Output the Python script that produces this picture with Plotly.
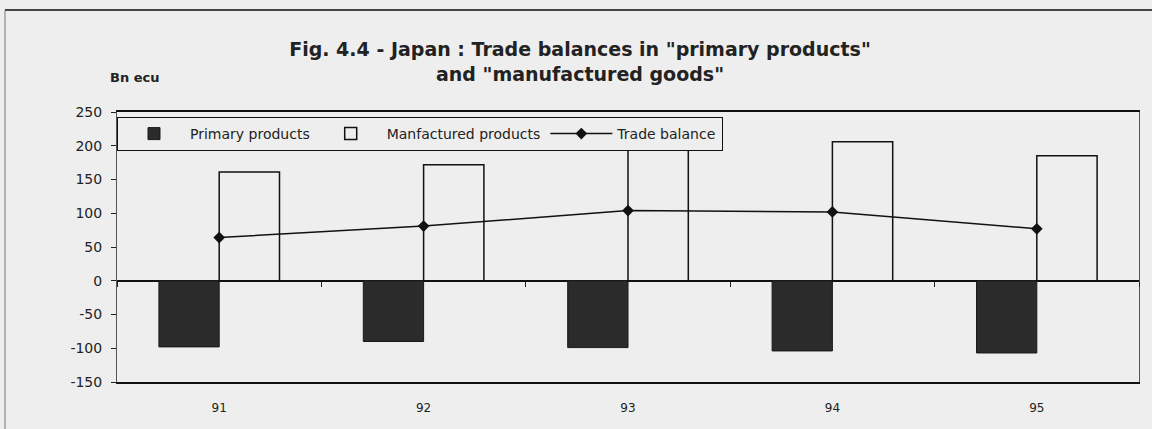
import plotly.graph_objects as go

years = ["91", "92", "93", "94", "95"]
primary = [-98, -90, -99, -104, -107]
manufactured = [161, 172, 199, 206, 185]
trade_balance = [64, 81, 104, 102, 77]
y_ticks = [-150, -100, -50, 0, 50, 100, 150, 200, 250]
y_ticktext = [str(v) for v in y_ticks]

FONT = "DejaVu Sans, Liberation Sans, Arial, sans-serif"
BG = "#eeeeee"
INK = "#222222"

fig = go.Figure()
fig.add_trace(go.Bar(
    x=years, y=primary, name="Primary products",
    marker=dict(color="#2b2b2b", line=dict(color="#1a1a1a", width=1)),
))
fig.add_trace(go.Bar(
    x=years, y=manufactured, name="Manfactured products",
    marker=dict(color=BG, line=dict(color="#111111", width=1.5)),
))
fig.add_trace(go.Scatter(
    x=years, y=trade_balance, name="Trade balance", mode="lines+markers",
    line=dict(color="#111111", width=1.5),
    marker=dict(symbol="diamond", size=9, color="#111111"),
))
# invisible helper trace so the zero-line category ticks can be drawn
fig.add_trace(go.Scatter(x=years, y=[0]*len(years), xaxis="x2", yaxis="y",
                         mode="markers", marker=dict(opacity=0),
                         showlegend=False, hoverinfo="skip"))

fig.update_layout(
    width=1152, height=429,
    margin=dict(l=117, r=13, t=112, b=47),
    paper_bgcolor=BG, plot_bgcolor=BG,
    barmode="group", bargap=0.41, bargroupgap=0,
    font=dict(family=FONT, size=12, color=INK),
    title=dict(
        text="Fig. 4.4 - Japan : Trade balances in \"primary products\"<br>and \"manufactured goods\"",
        x=580/1152, xref="container", xanchor="center",
        y=1 - 56/429, yref="container", yanchor="top",
        font=dict(family=FONT, size=19, color=INK, weight="bold"),
    ),
    legend=dict(
        orientation="h", x=0, y=1 - 5/270, xanchor="left", yanchor="top",
        bgcolor=BG, bordercolor="#111111", borderwidth=1,
        font=dict(family=FONT, size=14, color=INK),
        traceorder="normal", itemwidth=62,
    ),
    xaxis=dict(
        type="category", showline=True, linecolor="#111111", linewidth=1.5,
        mirror=True, ticks="", showgrid=False,
        tickfont=dict(family=FONT, size=12, color=INK), ticklabelstandoff=14,
    ),
    xaxis2=dict(
        type="category", overlaying="x", anchor="free", position=150/400,
        matches="x", showline=False, ticks="outside", tickson="boundaries",
        ticklen=5, tickcolor=INK, showticklabels=False, showgrid=False,
        side="bottom",
    ),
    yaxis=dict(
        range=[-150, 250], tickmode="array", tickvals=y_ticks,
        ticktext=y_ticktext, showline=True, linecolor="#555555",
        linewidth=1, mirror=True, ticks="outside", ticklen=5,
        tickcolor=INK, showgrid=False, zeroline=True,
        zerolinecolor="#111111", zerolinewidth=1.5,
        tickfont=dict(family=FONT, size=14, color=INK),
        ticklabelstandoff=6,
    ),
    annotations=[dict(
        text="<b>Bn ecu</b>", xref="paper", yref="paper",
        x=-0.009, y=(382-77)/270, xanchor="left", yanchor="middle",
        showarrow=False, font=dict(family=FONT, size=13, color=INK),
    )],
    shapes=[
        dict(type="line", xref="paper", yref="paper",
             x0=(5-117)/1022, x1=(1152-117)/1022,
             y0=(382-10)/270, y1=(382-10)/270,
             line=dict(color="#444444", width=2)),
        dict(type="line", xref="paper", yref="paper",
             x0=(5-117)/1022, x1=(5-117)/1022,
             y0=(382-429)/270, y1=(382-10)/270,
             line=dict(color="#777777", width=1)),
    ],
)

fig.write_html("out.html", config={"displayModeBar": False},
               post_script="document.body.style.margin='0';")
